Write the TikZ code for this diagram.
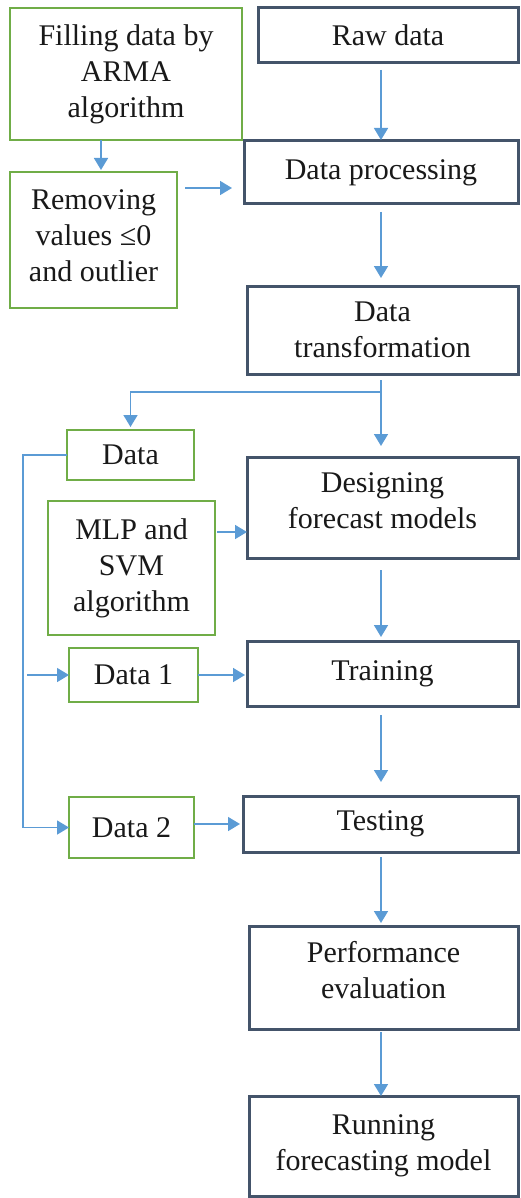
\documentclass[tikz,border=0pt]{standalone}
\usepackage{fontspec}
\setmainfont{Liberation Serif}
\usetikzlibrary{arrows.meta}
\definecolor{navy}{HTML}{44546A}
\definecolor{leaf}{HTML}{70AD47}
\definecolor{flow}{HTML}{5B9BD5}
\begin{document}
\begin{tikzpicture}[x=1pt,y=-1pt,
  box/.style={draw, inner sep=0pt, outer sep=0pt, align=center,
    font=\fontsize{30}{36}\selectfont, text=black!90},
  stage/.style={box, draw=navy, line width=3pt},
  side/.style={box, draw=leaf, line width=1.6pt},
  link/.style={draw=flow, line width=1.6pt},
  arr/.style={link, -{Triangle[length=12pt,width=14pt]}}]
\useasboundingbox (0,0) rectangle (521,1198);

% main pipeline
\node[stage, minimum width=260pt, minimum height=55pt]  (raw)    at (388,35.5)   {Raw data};
\node[stage, minimum width=274pt, minimum height=63pt]  (proc)   at (381,172.5)  {Data processing};
\node[stage, minimum width=271pt, minimum height=88pt]  (trans)  at (382.5,330)  {Data\\transformation};
\node[stage, minimum width=271pt, minimum height=101pt, text depth=14pt] (design) at (382.5,507.5) {Designing\\forecast models};
\node[stage, minimum width=271pt, minimum height=65pt]  (train)  at (382.5,673.5) {Training};
\node[stage, minimum width=275pt, minimum height=56pt]  (test)   at (380.5,824)  {Testing};
\node[stage, minimum width=269pt, minimum height=103pt, text depth=16pt] (perf) at (383.5,977.5) {Performance\\evaluation};
\node[stage, minimum width=269pt, minimum height=100pt] (run)    at (383.5,1146) {Running\\forecasting model};

% supporting steps
\node[side, minimum width=232pt, minimum height=132pt] (fill)   at (126,74)     {Filling data by\\ARMA\\algorithm};
\node[side, minimum width=167pt, minimum height=136pt, text depth=9pt] (remove) at (93.5,240) {Removing\\values ≤0\\and outlier};
\node[side, minimum width=127pt, minimum height=50pt]  (data)   at (130.5,455)  {Data};
\node[side, minimum width=167pt, minimum height=134pt] (mlp)    at (131.5,568)  {MLP and\\SVM\\algorithm};
\node[side, minimum width=129pt, minimum height=54pt]  (data1)  at (133.5,675)  {Data 1};
\node[side, minimum width=125pt, minimum height=61pt]  (data2)  at (131.5,827.5) {Data 2};

% guide coordinates
\coordinate (sp)   at (381,0);
\coordinate (lx)   at (101,0);
\coordinate (rail) at (23,0);
\coordinate (ry)   at (0,188);
\coordinate (my)   at (0,532);
\coordinate (fork) at (381,392);

% vertical flow
\draw[arr, shorten <=7pt, shorten >=1pt]  (raw.south -| sp)    -- (proc.north -| sp);
\draw[arr, shorten <=8pt, shorten >=8pt]  (proc.south -| sp)   -- (trans.north -| sp);
\draw[arr, shorten <=6pt, shorten >=11pt] (trans.south -| sp)  -- (design.north -| sp);
\draw[arr, shorten <=12pt, shorten >=4pt] (design.south -| sp) -- (train.north -| sp);
\draw[arr, shorten <=9pt, shorten >=14pt] (train.south -| sp)  -- (test.north -| sp);
\draw[arr, shorten <=5pt, shorten >=3pt]  (test.south -| sp)   -- (perf.north -| sp);
\draw[arr, shorten <=3pt]                 (perf.south -| sp)   -- (run.north -| sp);

% preprocessing
\draw[arr, shorten >=2pt] (fill.south -| lx) -- (remove.north -| lx);
\draw[arr, shorten <=8pt, shorten >=12pt] (remove.east |- ry) -- (proc.west |- ry);

% data split
\draw[arr, shorten >=3pt] (fork) -| (data.north);
\draw[arr] (data.west) -- (data.west -| rail) -- (data2.west -| rail) -- (data2.west);
\draw[arr, shorten <=4pt] (data1.west -| rail) -- (data1.west);

% inputs to the model stages
\draw[arr, shorten <=2pt] (mlp.east |- my) -- (design.west |- my);
\draw[arr, shorten >=2pt] (data1.east) -- (train.west |- data1.east);
\draw[arr, shorten >=3pt] (data2.east |- test.west) -- (test.west);
\end{tikzpicture}
\end{document}
